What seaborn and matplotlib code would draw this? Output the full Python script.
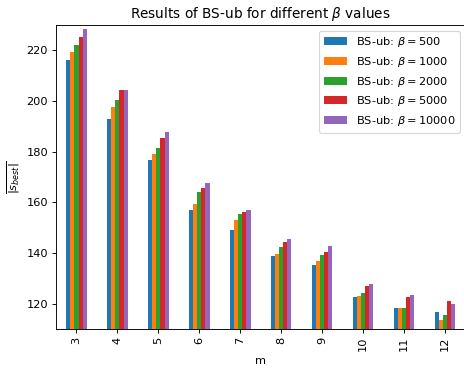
import matplotlib
matplotlib.use("Agg")
import matplotlib.pyplot as plt
import seaborn as sns
import pandas as pd

# Number of items m and the mean best-solution size for each beta setting
m_values = [3, 4, 5, 6, 7, 8, 9, 10, 11, 12]
betas = [500, 1000, 2000, 5000, 10000]
beta_500 = [216.3, 193.0, 176.7, 156.9, 149.1, 138.7, 135.1, 122.5, 118.1, 116.9]
beta_1000 = [219.5, 197.7, 179.1, 159.3, 153.1, 139.5, 136.7, 122.9, 118.1, 113.7]
beta_2000 = [222.3, 200.5, 181.5, 164.0, 155.4, 142.3, 139.1, 124.1, 118.1, 115.7]
beta_5000 = [225.4, 204.4, 185.4, 165.6, 156.2, 144.3, 140.3, 126.9, 122.5, 120.9]
beta_10000 = [228.6, 204.4, 187.8, 167.6, 157.0, 145.5, 142.7, 127.7, 123.3, 119.7]

series = [beta_500, beta_1000, beta_2000, beta_5000, beta_10000]
labels = [rf"BS-ub: $\beta = {b}$" for b in betas]

rows = []
for label, values in zip(labels, series):
    for m, v in zip(m_values, values):
        rows.append({"m": str(m), "size": v, "setting": label})
df = pd.DataFrame(rows)

DPI = 82
W, H = 464, 373
fig = plt.figure(figsize=(W / DPI, H / DPI), dpi=DPI)
ax = fig.add_axes([56 / W, 1 - 329 / H, (465.5 - 56) / W, (329 - 25) / H])

palette = ["#1f77b4", "#ff7f0e", "#2ca02c", "#d62728", "#9467bd"]
sns.barplot(data=df, x="m", y="size", hue="setting", hue_order=labels,
            order=[str(m) for m in m_values], palette=palette, saturation=1,
            width=0.5, gap=0, linewidth=0, ax=ax)

ax.set_xlim(-0.5, len(m_values) - 0.5)
ax.set_ylim(110, 230)
ax.set_yticks([120, 140, 160, 180, 200, 220])
ax.tick_params(axis="x", labelrotation=90)
ax.set_xlabel("m")
ax.set_ylabel(r"$\overline{|s_{best}|}$")
ax.set_title(r"Results of BS-ub for different $\beta$ values")

handles, hlabels = ax.get_legend_handles_labels()
ax.legend(handles, hlabels, loc="upper right")

fig.savefig("out.png", dpi=DPI)
